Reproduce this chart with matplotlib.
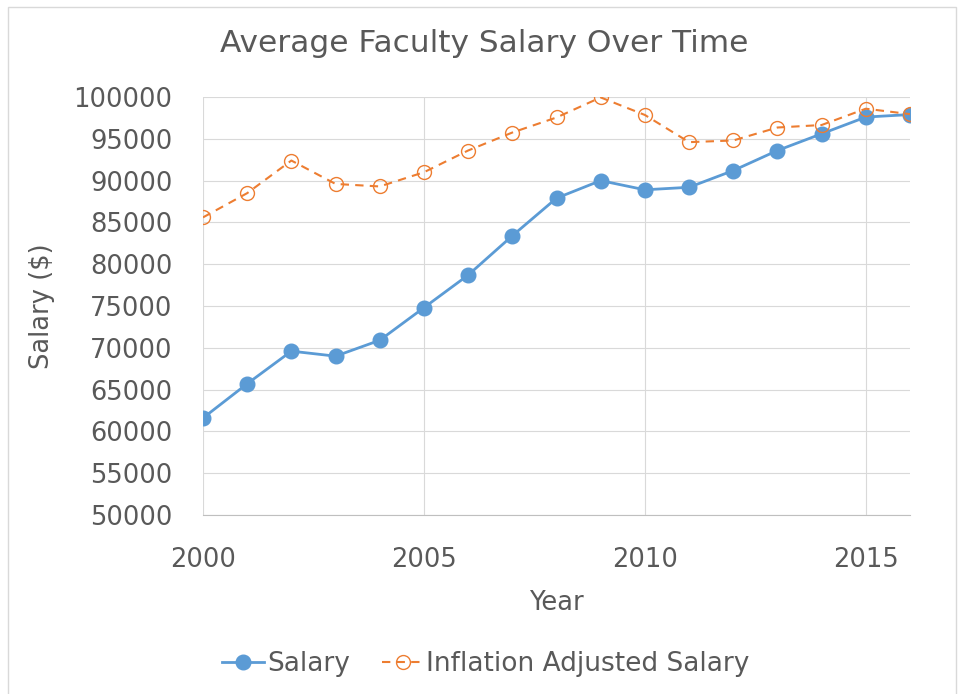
import matplotlib.pyplot as plt
from matplotlib.patches import Rectangle

# Data
years = list(range(2000, 2017))
salary = [61600, 65700, 69600, 69000, 70900, 74800, 78700, 83400, 87900,
          90000, 88900, 89200, 91200, 93600, 95600, 97600, 97900]
inflation_adj = [85600, 88500, 92400, 89600, 89300, 91000, 93600, 95750, 97550,
                 99950, 97850, 94600, 94800, 96350, 96650, 98600, 97950]

blue = "#5B9BD5"
orange = "#ED7D31"
text_c = "#595959"
grid_c = "#D9D9D9"

W, H = 959, 694
fig = plt.figure(figsize=(W / 100, H / 100), dpi=100)
plt.rcParams['font.family'] = ['DejaVu Sans']

# outer chart border
fig.patches.append(Rectangle((8 / W, -0.05), (956 - 8) / W, 1.05 - 7 / H,
                             transform=fig.transFigure, fill=False,
                             edgecolor="#D9D9D9", linewidth=1))

ax = fig.add_axes([203 / W, 1 - 515 / H, (910 - 203) / W, (515 - 97) / H])

ax.plot(years, salary, color=blue, linewidth=2.0, marker="o",
        markersize=10.5, markerfacecolor=blue, markeredgecolor=blue,
        label="Salary", zorder=3)
ax.plot(years, inflation_adj, color=orange, linewidth=1.5, dashes=(4, 3),
        marker="o", markersize=10, markerfacecolor="none",
        markeredgecolor=orange, markeredgewidth=1.0,
        label="Inflation Adjusted Salary", zorder=4)

ax.set_xlim(2000, 2016)
ax.set_ylim(50000, 100000)
ax.set_xticks([2000, 2005, 2010, 2015])
ax.set_yticks(range(50000, 100001, 5000))
ax.grid(True, color=grid_c, linewidth=0.8)
ax.set_axisbelow(True)
for s in ["top", "right", "left"]:
    ax.spines[s].set_visible(False)
ax.spines["bottom"].set_color("#BFBFBF")
ax.spines["bottom"].set_linewidth(0.8)
ax.tick_params(axis="both", length=0, labelsize=18.5, labelcolor=text_c)
ax.tick_params(axis="x", pad=23)
ax.tick_params(axis="y", pad=22)

fig.text(484 / W, 1 - 43 / H, "Average Faculty Salary Over Time",
         ha="center", va="center", fontsize=22.5, color=text_c)
fig.text(556 / W, 1 - 603 / H, "Year", ha="center", va="center",
         fontsize=18.5, color=text_c)
fig.text(42 / W, 1 - 306 / H, "Salary ($)", ha="center", va="center",
         rotation=90, fontsize=18.5, color=text_c)

fig.legend(loc="center", bbox_to_anchor=(486 / W, 1 - 664 / H), ncol=2,
           frameon=False, fontsize=19, labelcolor=text_c, handlelength=1.6,
           handletextpad=0.1, columnspacing=1.2, borderaxespad=0)

fig.savefig("out.png", dpi=100)
